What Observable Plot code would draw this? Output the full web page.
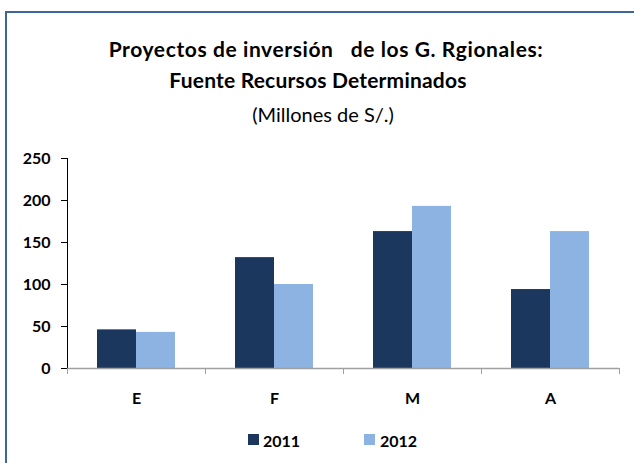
<!DOCTYPE html>
<html>
<head>
<meta charset="utf-8">
<script src="https://cdn.jsdelivr.net/npm/d3@7"></script>
<script src="https://cdn.jsdelivr.net/npm/@observablehq/plot@0.6"></script>
<style>
  html, body { margin: 0; padding: 0; background: #fff; }
  #wrap { position: relative; width: 634px; height: 463px; overflow: hidden; font-family: Lato, "Open Sans", sans-serif; color: #000; }
  #border { position: absolute; left: 5px; top: 11px; width: 700px; height: 600px; border-left: 2px solid #3d64a0; border-top: 2px solid #3d64a0; }
  .t { position: absolute; left: 0; width: 634px; text-align: center; white-space: pre; line-height: 1.2; }
  .t1 { font-weight: bold; font-size: 21px; }
  .t2 { font-weight: normal; font-size: 20px; }
  #chart { position: absolute; left: 0; top: 140px; }
  #legend { position: absolute; top: 0; left: 0; }
  .lg-sw { position: absolute; width: 11px; height: 11px; }
  .lg-tx { position: absolute; font-weight: bold; font-size: 16px; line-height: 1.2; }
  #chart svg [aria-label="y-axis tick"], #chart svg [aria-label="y-axis line"] { stroke: #a0a0a0; }
</style>
</head>
<body>
<div id="wrap">
  <div id="border"></div>
  <div class="t t1" style="top:36px; letter-spacing:0.6px; left:9px">Proyectos de inversión   de los G. Rgionales:</div>
  <div class="t t1" style="top:67px; left:1px; letter-spacing:0.2px">Fuente Recursos Determinados</div>
  <div class="t t2" style="top:102px; left:6px">(Millones de S/.)</div>
  <div id="chart"></div>
  <div id="legend"></div>
</div>
<script>
const months = ["E", "F", "M", "A"];
const years = ["2011", "2012"];
const values2011 = [46, 132, 163, 94];
const values2012 = [43, 100, 193, 163];
const colors = ["#1b375e", "#8db3e2"];
const yTicks = [0, 50, 100, 150, 200, 250];

const data = [];
months.forEach((m, i) => {
  data.push({month: m, year: years[0], value: values2011[i]});
  data.push({month: m, year: years[1], value: values2012[i]});
});

const W = 634, H = 280, mTop = 18, mBottom = 52, mLeft = 67, mRight = 15;
const frameH = H - mTop - mBottom;

const plot = Plot.plot({
  width: W,
  height: H,
  marginTop: mTop,
  marginBottom: mBottom,
  marginLeft: mLeft,
  marginRight: mRight,
  style: {fontFamily: "Lato, 'Open Sans', sans-serif", fontSize: "16px", fontWeight: "bold", color: "#000", background: "transparent"},
  fx: {domain: months, padding: 0, label: null, tickSize: 0, tickPadding: 24},
  x: {domain: years, paddingInner: 0, paddingOuter: 0.75, axis: null},
  y: {domain: [0, 250], ticks: yTicks, tickSize: 6, tickPadding: 11, label: null, line: true},
  color: {domain: years, range: colors},
  marks: [
    Plot.barY(data, {fx: "month", x: "year", y: "value", fill: "year"}),
    Plot.ruleY([0], {stroke: "#a0a0a0", strokeWidth: 1.5}),
    Plot.frame({anchor: "left", stroke: "#a0a0a0", insetTop: frameH, insetBottom: -5}),
    Plot.frame({anchor: "right", stroke: "#a0a0a0", insetTop: frameH, insetBottom: -5})
  ]
});
document.getElementById("chart").appendChild(plot);

const legend = document.getElementById("legend");
const swX = [248, 364], txX = [263, 380];
years.forEach((y, i) => {
  const sw = document.createElement("div");
  sw.className = "lg-sw";
  sw.style.left = swX[i] + "px";
  sw.style.top = "434px";
  sw.style.background = colors[i];
  legend.appendChild(sw);
  const tx = document.createElement("div");
  tx.className = "lg-tx";
  tx.style.left = txX[i] + "px";
  tx.style.top = "431px";
  tx.textContent = y;
  legend.appendChild(tx);
});
</script>
</body>
</html>
